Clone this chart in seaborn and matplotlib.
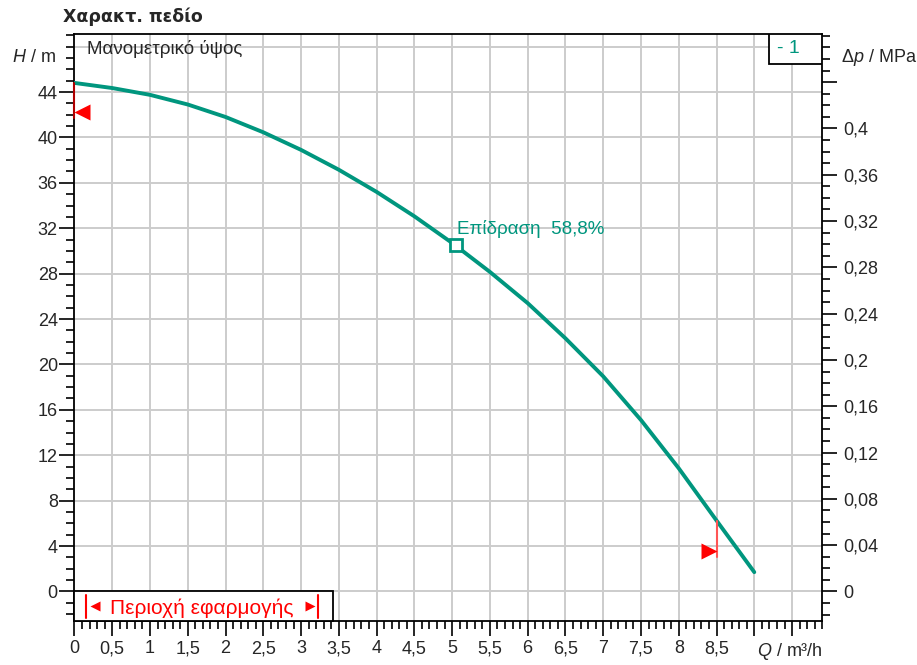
import numpy as np
import pandas as pd
import matplotlib
matplotlib.use("Agg")
import matplotlib.pyplot as plt
import seaborn as sns
from matplotlib.ticker import MultipleLocator, FixedLocator, FuncFormatter
from matplotlib.patches import Rectangle

# pump curve
flow = [0, 0.5, 1, 1.5, 2, 2.5, 3, 3.5, 4, 4.5, 5, 5.5, 6, 6.5, 7, 7.5, 8, 8.5, 9]
head = [44.8, 44.35, 43.75, 42.9, 41.8, 40.45, 38.9, 37.15, 35.2, 33.05, 30.7,
        28.15, 25.4, 22.3, 18.95, 15.1, 10.85, 6.25, 1.7]

duty_q = 5.05
duty_h = 30.5
efficiency_label = "Επίδραση  58,8%"

# operating range limits (red marks)
left_limit_q = [0, 0]
left_limit_h = [44.8, 41.7]
left_arrow = (0.1, 42.2)
right_limit_q = [8.5, 8.5]
right_limit_h = [6.25, 3.0]
right_arrow = (8.4, 3.6)
range_end_q = 3.42

x_ticks = [0, 0.5, 1, 1.5, 2, 2.5, 3, 3.5, 4, 4.5, 5, 5.5, 6, 6.5, 7, 7.5, 8, 8.5, 9, 9.5]
h_ticks = [0, 4, 8, 12, 16, 20, 24, 28, 32, 36, 40, 44]
p_ticks = [0, 0.04, 0.08, 0.12, 0.16, 0.2, 0.24, 0.28, 0.32, 0.36, 0.4, 0.44]

GREEN = "#00967e"
RED = "#ff0000"
M_PER_MPA = 1e6 / (1000 * 9.80665)

sns.set_style("white")
plt.rcParams["font.family"] = ["Liberation Sans", "DejaVu Sans"]
plt.rcParams["mathtext.fontset"] = "custom"
plt.rcParams["mathtext.rm"] = "Liberation Sans"
plt.rcParams["mathtext.it"] = "Liberation Sans:italic"

fig = plt.figure(figsize=(9.17, 6.65), dpi=100)
ax = fig.add_axes([0.0812, 0.0662, 0.8155, 0.8825])

comma = FuncFormatter(lambda v, pos: f"{v:g}".replace(".", ","))

ylo, yhi = -2.6, 49.1
ax.set_xlim(0, 9.9)
ax.set_ylim(ylo, yhi)

# grid
for xv in np.arange(0.5, 9.6, 0.5):
    ax.axvline(xv, color="#cccccc", lw=1.4, zorder=0)
for yv in range(0, 49, 4):
    ax.axhline(yv, color="#cccccc", lw=1.4, zorder=0)

df = pd.DataFrame({"Q": flow, "H": head})
sns.lineplot(data=df, x="Q", y="H", ax=ax, color=GREEN, lw=2.8, zorder=3)
ax.set_xlabel("")
ax.set_ylabel("")

ax.plot([duty_q], [duty_h], marker="s", ms=8, mfc="white", mec=GREEN, mew=2, zorder=4)
ax.text(duty_q + 0.02, duty_h + 0.6, efficiency_label, color=GREEN, fontsize=13.5,
        ha="left", va="bottom", zorder=5)

# range marks
ax.plot(left_limit_q, left_limit_h, color="#b00000", lw=1.5, zorder=5, clip_on=False)
ax.plot(right_limit_q, right_limit_h, color="#ff5555", lw=1.5, zorder=5)
ax.plot([left_arrow[0]], [left_arrow[1]], marker="<", ms=11, color=RED, mec="none", zorder=6)
ax.plot([right_arrow[0]], [right_arrow[1]], marker=">", ms=11, color=RED, mec="none", zorder=6)

# application range box
ax.add_patch(Rectangle((0, ylo), range_end_q, -ylo, facecolor="white", edgecolor="black",
                       lw=1.3, zorder=6, clip_on=False))
ax.plot([0.155, 0.155], [ylo + 0.3, -0.3], color=RED, lw=1.5, zorder=7)
ax.plot([3.23, 3.23], [ylo + 0.3, -0.3], color=RED, lw=1.5, zorder=7)
ax.plot([0.27], [ylo / 2], marker="<", ms=7, color=RED, mec="none", zorder=7)
ax.plot([3.12], [ylo / 2], marker=">", ms=7, color=RED, mec="none", zorder=7)
ax.text(1.69, ylo / 2 - 0.15, "Περιοχή εφαρμογής", color=RED, fontsize=15,
        ha="center", va="center", zorder=7)

# "- 1" box
ax.add_patch(Rectangle((9.2, 46.5), 0.7, yhi - 46.5, facecolor="white", edgecolor="black",
                       lw=1.3, zorder=6))
ax.text(9.3, 47.8, "- 1", color=GREEN, fontsize=14, ha="left", va="center", zorder=7)

ax.text(0.16, 47.8, "Μανομετρικό ύψος", fontsize=13.5, ha="left", va="center")

# axes styling
for s in ax.spines.values():
    s.set_color("black")
    s.set_linewidth(1.3)

ax.xaxis.set_major_locator(FixedLocator(x_ticks))
ax.xaxis.set_minor_locator(MultipleLocator(0.1))
ax.set_xticklabels([f"{v:g}".replace(".", ",") if v <= 8.5 else "" for v in x_ticks])
ax.yaxis.set_major_locator(FixedLocator(h_ticks))
ax.yaxis.set_minor_locator(MultipleLocator(1))
ax.yaxis.set_major_formatter(comma)
ax.tick_params(axis="both", which="major", direction="out", length=11, width=1.2,
               labelsize=13, color="black", pad=3)
ax.tick_params(axis="both", which="minor", direction="out", length=6, width=1.2, color="black")
ax.tick_params(axis="y", which="major", pad=1)
ax.tick_params(axis="x", which="both", bottom=True)
ax.tick_params(axis="y", which="both", left=True)

ax2 = ax.twinx()
ax2.set_ylim(ylo / M_PER_MPA, yhi / M_PER_MPA)
ax2.yaxis.set_major_locator(FixedLocator(p_ticks))
ax2.yaxis.set_minor_locator(MultipleLocator(0.01))
ax2.set_yticklabels([f"{v:g}".replace(".", ",") if v < 0.42 else "" for v in p_ticks])
ax2.tick_params(axis="y", which="major", direction="out", length=11, width=1.2,
                labelsize=13, color="black", pad=4, right=True)
ax2.tick_params(axis="y", which="minor", direction="out", length=6, width=1.2,
                color="black", right=True)
for s in ax2.spines.values():
    s.set_visible(False)

# axis labels placed like the original
fig.text(56 / 917, 1 - 58 / 665, "$\\mathit{H}$ / m", fontsize=13, ha="right", va="center")
fig.text(841 / 917, 1 - 58 / 665, "$\\mathit{Δp}$ / MPa", fontsize=13, ha="left", va="center")
fig.text(790 / 917, 1 - 651 / 665, "$\\mathit{Q}$ / m³/h", fontsize=13, ha="center", va="center")
fig.text(63 / 917, 1 - 17 / 665, "Χαρακτ. πεδίο", fontsize=12.5, fontweight="bold",
         family="DejaVu Sans", ha="left", va="center")

fig.savefig("out.png", dpi=100)
